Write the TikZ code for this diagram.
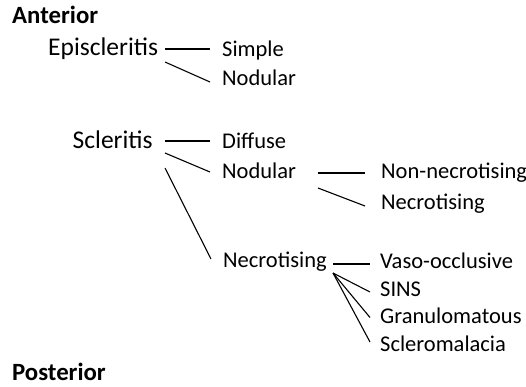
\documentclass[tikz,border=0pt]{standalone}
\usepackage{fontspec}
\setmainfont{Carlito}
\usetikzlibrary{calc}
\begin{document}
\begin{tikzpicture}[x=1pt,y=-1pt,
  lbl/.style={anchor=base west,inner sep=0pt,font=\fontsize{22.5}{27}\selectfont},
  big/.style={lbl,font=\fontsize{25.5}{30}\selectfont},
  head/.style={anchor=base west,inner sep=0pt,font=\fontsize{24.8}{29}\selectfont\bfseries},
  link/.style={line width=1.1pt,black}]
\useasboundingbox (0,0) rectangle (526,386);
% headings
\node[head] (ant) at (12,23.5) {Anterior};
\node[head] (post) at (12,380.5) {Posterior};
% left column
\node[big] (epi) at (48,55.5) {Episcleritis};
\node[big] (scl) at (72.5,148) {Scleritis};
% middle column
\node[lbl] (simple) at (222,56) {Simple};
\node[lbl] (nodA) at (222,85) {Nodular};
\node[lbl] (diff) at (222,148) {Diffuse};
\node[lbl] (nodB) at (222,178) {Nodular};
\node[lbl] (necA) at (223,267) {Necrotising};
% right column
\node[lbl] (nonnec) at (381,178) {Non-necrotising};
\node[lbl] (necB) at (381,209) {Necrotising};
\node[lbl] (vaso) at (380,268) {Vaso-occlusive};
\node[lbl] (sins) at (380,296) {SINS};
\node[lbl] (gran) at (380,323.5) {Granulomatous};
\node[lbl] (scm) at (380,351) {Scleromalacia};
% connectors
\draw[link] ($(epi.base west)+(117,-6.5)$) -- ($(simple.base west)+(-12,-7)$);
\draw[link] ($(epi.base west)+(117,6.5)$) -- ($(nodA.base west)+(-12,-3)$);
\draw[link] ($(scl.base west)+(92.5,-7)$) -- ($(diff.base west)+(-12,-7)$);
\draw[link] ($(scl.base west)+(92.5,5)$) -- ($(nodB.base west)+(-12,-6)$);
\draw[link] ($(scl.base west)+(92.5,20)$) -- ($(necA.base west)+(-12,-8)$);
\draw[link] ($(nodB.base west)+(96,-5)$) -- ($(nonnec.base west)+(-16,-5)$);
\draw[link] ($(nodB.base west)+(96,10)$) -- ($(necB.base west)+(-16,-3)$);
\draw[link] ($(necA.base west)+(110,-3)$) -- ($(vaso.base west)+(-10,-4)$);
\draw[link] ($(necA.base west)+(110,6)$) -- ($(sins.base west)+(-10,-4)$);
\draw[link] ($(necA.base west)+(110,6)$) -- ($(gran.base west)+(-10,-6)$);
\draw[link] ($(necA.base west)+(110,6)$) -- ($(scm.base west)+(-10,-9)$);
\end{tikzpicture}
\end{document}
